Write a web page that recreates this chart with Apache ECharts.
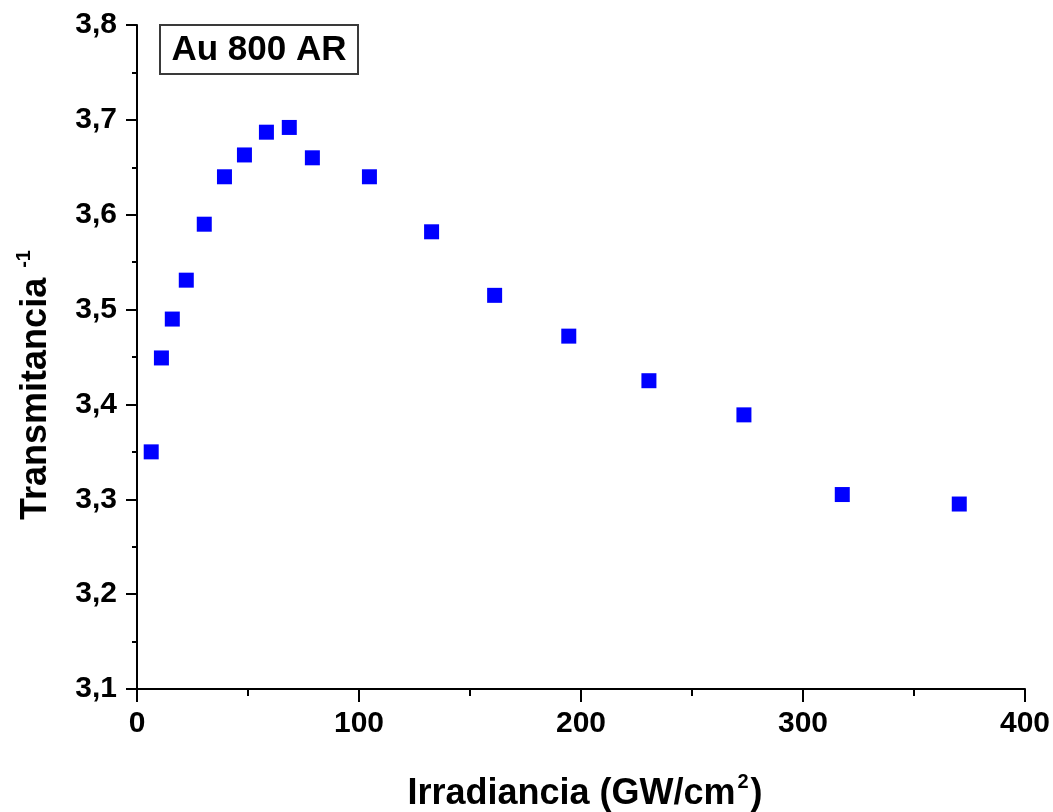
<!DOCTYPE html>
<html>
<head>
<meta charset="utf-8">
<script src="https://cdn.jsdelivr.net/npm/echarts@6/dist/echarts.min.js"></script>
<style>
  html, body { margin: 0; padding: 0; background: #fff; }
  #chart { width: 1053px; height: 812px; }
</style>
</head>
<body>
<div id="chart"></div>
<script>
// Irradiance (GW/cm^2) and inverse transmittance for the Au 800 AR sample
const irradiancia = [6.4, 11.0, 15.9, 22.2, 30.3, 39.4, 48.4, 58.3, 68.6, 79.0,
                     104.7, 132.7, 161.1, 194.5, 230.6, 273.4, 317.7, 370.4];
const transmitanciaInv = [3.350, 3.449, 3.490, 3.531, 3.590, 3.640, 3.663, 3.687, 3.692, 3.660,
                          3.640, 3.582, 3.515, 3.472, 3.425, 3.389, 3.305, 3.295];
const sampleLabel = 'Au 800 AR';
const xTicks = [0, 100, 200, 300, 400];
const yTicks = [3.1, 3.2, 3.3, 3.4, 3.5, 3.6, 3.7, 3.8];

const FONT = '"Liberation Sans", Arial, sans-serif';
const points = irradiancia.map((x, i) => [x, transmitanciaInv[i]]);

const chart = echarts.init(document.getElementById('chart'), null, { renderer: 'canvas' });

const axisCommon = {
  axisLine: { show: true, lineStyle: { color: '#000', width: 2 } },
  axisTick: { show: true, inside: false, lineStyle: { color: '#000', width: 2 } },
  minorTick: { show: true, splitNumber: 2, lineStyle: { color: '#000', width: 2 } },
  splitLine: { show: false },
  axisLabel: { color: '#000', fontWeight: 'bold', fontSize: 30, fontFamily: FONT }
};

chart.setOption({
  animation: false,
  backgroundColor: '#fff',
  grid: { left: 137, right: 28, top: 25, bottom: 123, containLabel: false },
  xAxis: Object.assign({}, axisCommon, {
    type: 'value',
    min: xTicks[0],
    max: xTicks[xTicks.length - 1],
    interval: 100,
    axisTick: Object.assign({}, axisCommon.axisTick, { length: 13 }),
    minorTick: Object.assign({}, axisCommon.minorTick, { length: 7 }),
    axisLabel: Object.assign({}, axisCommon.axisLabel, { margin: 20 })
  }),
  yAxis: Object.assign({}, axisCommon, {
    type: 'value',
    min: yTicks[0],
    max: yTicks[yTicks.length - 1],
    interval: 0.1,
    axisTick: Object.assign({}, axisCommon.axisTick, { length: 11 }),
    minorTick: Object.assign({}, axisCommon.minorTick, { length: 5 }),
    axisLabel: Object.assign({}, axisCommon.axisLabel, {
      margin: 20,
      formatter: v => v.toFixed(1).replace('.', ',')
    })
  }),
  series: [{
    type: 'scatter',
    data: points,
    symbol: 'rect',
    symbolSize: 15,
    itemStyle: { color: '#0000ff', opacity: 1 },
    emphasis: { disabled: true }
  }],
  graphic: [
    {
      type: 'group',
      left: 159,
      top: 24,
      children: [
        {
          type: 'rect',
          shape: { x: 0, y: 0, width: 198, height: 49 },
          style: { fill: '#fff', stroke: '#3a3a3a', lineWidth: 2 }
        },
        {
          type: 'text',
          x: 99,
          y: 25,
          style: {
            text: sampleLabel,
            fill: '#000',
            font: 'bold 35px ' + FONT,
            align: 'center',
            verticalAlign: 'middle'
          }
        }
      ]
    },
    {
      type: 'text',
      x: 585,
      y: 794,
      style: {
        text: '{b|Irradiancia (GW/cm}{s|2}{b|)}',
        align: 'center',
        verticalAlign: 'middle',
        rich: {
          b: { font: 'bold 36px ' + FONT, fill: '#000', lineHeight: 44 },
          s: { font: 'bold 20px ' + FONT, fill: '#000', verticalAlign: 'top', lineHeight: 20, padding: [0, 2, 0, 2] }
        }
      }
    },
    {
      type: 'text',
      x: 36,
      y: 385,
      rotation: Math.PI / 2,
      style: {
        text: '{b|Transmitancia }{s|-1}',
        align: 'center',
        verticalAlign: 'middle',
        rich: {
          b: { font: 'bold 36px ' + FONT, fill: '#000', lineHeight: 44 },
          s: { font: 'bold 20px ' + FONT, fill: '#000', verticalAlign: 'top', lineHeight: 20 }
        }
      }
    }
  ]
});
</script>
</body>
</html>
